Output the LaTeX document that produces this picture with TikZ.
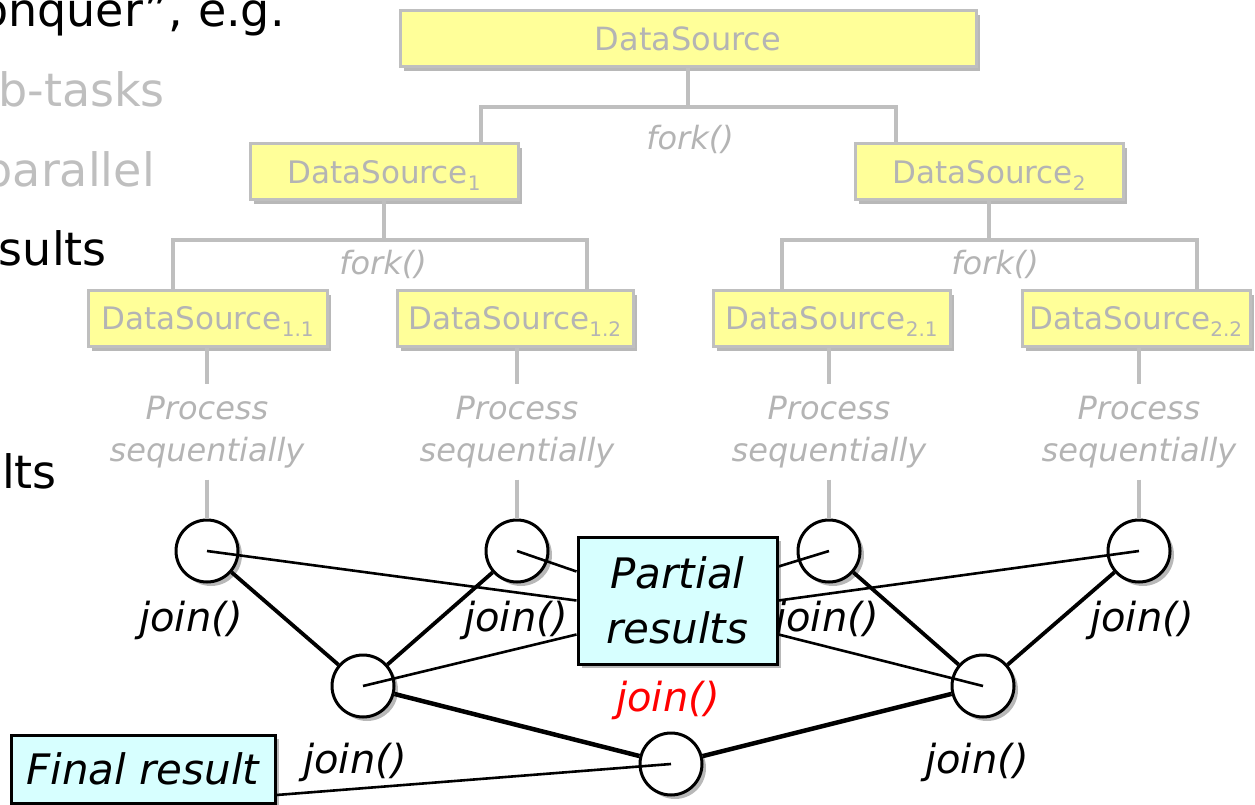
\documentclass[tikz,border=0pt]{standalone}
\usepackage{fontspec}
\setmainfont{DejaVu Sans}
\usetikzlibrary{shadows,calc}
\definecolor{lgray}{RGB}{191,191,191}
\definecolor{tgray}{RGB}{180,180,180}
\definecolor{yel}{RGB}{255,255,153}
\definecolor{cyanbox}{RGB}{215,255,255}
\newcommand\myfs[2]{\fontsize{#1}{#2}\selectfont}
\newcommand\dsub[1]{\smash{\raisebox{-7pt}{\myfs{20}{20}#1}}}
\tikzset{
  shad/.style={drop shadow={shadow xshift=4pt,shadow yshift=-4pt,fill=black,opacity=0.28}},
  dsbox/.style={rectangle,draw=lgray,line width=3pt,fill=yel,text=tgray,inner sep=0pt,
    minimum height=56pt,font=\myfs{31}{31},shad},
  gline/.style={draw=lgray,line width=3.5pt},
  gtext/.style={text=tgray,font=\myfs{32}{42}\itshape,align=center,inner sep=0pt},
  jcirc/.style={circle,draw=black,line width=3pt,fill=white,minimum size=62pt,inner sep=0pt,shad},
  jlabel/.style={font=\myfs{40}{40}\itshape,inner sep=0pt},
  tkline/.style={draw=black,line width=3.8pt},
  tkkline/.style={draw=black,line width=4.5pt},
  thline/.style={draw=black,line width=2.6pt},
  resbox/.style={rectangle,draw=black,line width=3pt,fill=cyanbox,inner sep=0pt,align=center,shad},
  lefttext/.style={font=\myfs{46}{46},inner sep=0pt,anchor=base east}
}
\begin{document}
\begin{tikzpicture}[x=1pt,y=-1pt]
\useasboundingbox (0,0) rectangle (1255,805);
\clip (0,0) rectangle (1255,805);

% left bullet text fragments
\node[lefttext,text=black] (t1) at (285,27) {onquer”, e.g.};
\node[lefttext,text=lgray] (t2) at (165,107) {b-tasks};
\node[lefttext,text=lgray] (t3) at (155,187) {parallel};
\node[lefttext,text=black] (t4) at (107,265) {sults};
\node[lefttext,text=black] (t5) at (57,488) {lts};

% data source boxes
\node[dsbox,minimum width=576pt,font=\myfs{32}{32}] (ds) at (688,39) {DataSource};
\node[dsbox,minimum width=268pt] (ds1) at (384,172) {DataSource\dsub{1}};
\node[dsbox,minimum width=268pt] (ds2) at (989,172) {DataSource\dsub{2}};
\node[dsbox,minimum width=239pt] (ds11) at (207.5,318.5) {DataSource\dsub{1.1}};
\node[dsbox,minimum width=236pt] (ds12) at (515,318.5) {DataSource\dsub{1.2}};
\node[dsbox,minimum width=237pt] (ds21) at (831.5,318.5) {DataSource\dsub{2.1}};
\node[dsbox,minimum width=228pt] (ds22) at (1136,318.5) {DataSource\dsub{2.2}};

% fork connectors
\coordinate (f0) at (688,107);
\coordinate (f1) at (384,240);
\coordinate (f2) at (989,240);
\draw[gline] (ds.south) -- (f0);
\draw[gline] ([xshift=97pt]ds1.north) |- (f0) -| ([xshift=-93pt]ds2.north);
\draw[gline] (ds1.south) -- (f1);
\draw[gline] ([xshift=-34.5pt]ds11.north) |- (f1) -| ([xshift=72pt]ds12.north);
\draw[gline] (ds2.south) -- (f2);
\draw[gline] ([xshift=-49.5pt]ds21.north) |- (f2) -| ([xshift=61pt]ds22.north);
\node[gtext] (fk0) at (690,139) {fork()};
\node[gtext] (fk1) at (383,264) {fork()};
\node[gtext] (fk2) at (995,264) {fork()};

% process sequentially
\node[gtext,minimum height=95pt] (p1) at (207,432) {Process\\sequentially};
\node[gtext,minimum height=95pt] (p2) at (517,432) {Process\\sequentially};
\node[gtext,minimum height=95pt] (p3) at (829,432) {Process\\sequentially};
\node[gtext,minimum height=95pt] (p4) at (1139,432) {Process\\sequentially};
\draw[gline] (p1.north |- ds11.south) -- (p1.north);
\draw[gline] (p2.north |- ds12.south) -- (p2.north);
\draw[gline] (p3.north |- ds21.south) -- (p3.north);
\draw[gline] (p4.north |- ds22.south) -- (p4.north);

% join circles
\node[jcirc] (l1) at (207,551) {};
\node[jcirc] (l2) at (517,551) {};
\node[jcirc] (l3) at (829,551) {};
\node[jcirc] (l4) at (1139,551) {};
\node[jcirc] (ml) at (363,686) {};
\node[jcirc] (mr) at (983,686) {};
\node[jcirc] (bc) at (671,764) {};

\draw[gline] (p1.south) -- (l1.north);
\draw[gline] (p2.south) -- (l2.north);
\draw[gline] (p3.south) -- (l3.north);
\draw[gline] (p4.south) -- (l4.north);

% tree of joins
\draw[tkline] (l1) -- (ml);
\draw[tkline] (l2) -- (ml);
\draw[tkline] (l3) -- (mr);
\draw[tkline] (l4) -- (mr);
\draw[tkkline] (ml) -- (bc);
\draw[tkkline] (mr) -- (bc);

% join labels
\node[jlabel] (j1) at (191,620) {join()};
\node[jlabel] (j2) at (516,620) {join()};
\node[jlabel] (j3) at (827,620) {join()};
\node[jlabel] (j4) at (1142,620) {join()};
\node[jlabel] (j5) at (355,762) {join()};
\node[jlabel] (j6) at (977,762) {join()};
\node[jlabel,text=red] (j7) at (668,700) {join()};

% partial results box and its lines
\node[resbox,minimum width=199pt,minimum height=127pt,font=\myfs{42}{55}\itshape] (pr) at (677.5,600.5) {Partial\\results};
\draw[thline] (l1.center) -- (pr.west);
\draw[thline] (l2.center) -- ([yshift=29pt]pr.west);
\draw[thline] (ml.center) -- ([yshift=-34pt]pr.west);
\draw[thline] (l3.center) -- ([yshift=34pt]pr.east);
\draw[thline] (l4.center) -- (pr.east);
\draw[thline] (mr.center) -- ([yshift=-34pt]pr.east);

% final result
\node[resbox,minimum width=264pt,minimum height=68pt,font=\myfs{42}{42}\itshape] (fr) at (143,769) {Final result};
\draw[thline] ([yshift=-26pt]fr.east) -- (bc.center);
\end{tikzpicture}
\end{document}
